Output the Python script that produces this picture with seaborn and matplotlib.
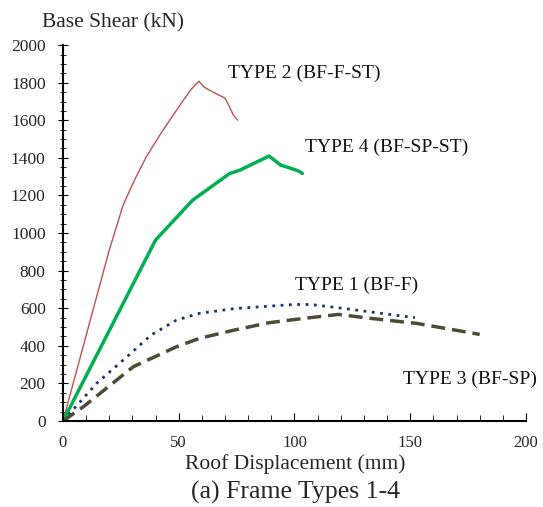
import numpy as np
import pandas as pd
import seaborn as sns
import matplotlib.pyplot as plt

# pushover curves, displacement (mm) vs base shear (kN)
t1_disp = [0, 14.5, 26, 38, 49, 59, 74, 90, 100, 107, 122, 138, 152]
t1_shear = [0, 200, 324, 457, 537, 573, 598, 612, 620, 620, 598, 572, 550]

t2_disp = [0, 20, 26, 31, 36, 42, 47.6, 55, 58.7, 61, 64.8, 70, 72, 73.5, 75.4]
t2_shear = [0, 910, 1150, 1285, 1406, 1525, 1628, 1760, 1808, 1776, 1750, 1718, 1670, 1630, 1601]

t3_disp = [0, 8.8, 30.4, 49, 59, 74, 89, 104, 119, 133, 153, 180]
t3_shear = [0, 76, 289, 395, 440, 484, 523, 546, 567, 546, 519, 461]

t4_disp = [0, 40, 56, 72, 76.5, 89, 94, 101.7, 103.4]
t4_shear = [0, 963, 1175, 1317, 1335, 1410, 1362, 1331, 1317]

labels = ["TYPE 1 (BF-F)", "TYPE 2 (BF-F-ST)", "TYPE 3 (BF-SP)", "TYPE 4 (BF-SP-ST)"]
label_x = [100.2, 71.3, 147, 104.5]
label_y = [723, 1851, 222, 1454]

sns.set_style("ticks")
plt.rcParams['font.family'] = ['Liberation Serif', 'DejaVu Serif']

fig = plt.figure(figsize=(5.43, 5.07), dpi=100)
ax = fig.add_axes([0.116, 0.1696, 0.8527, 0.7414])

sns.lineplot(x=t2_disp, y=t2_shear, ax=ax, sort=False, color="#c0504d", linewidth=1.0)
sns.lineplot(x=t4_disp, y=t4_shear, ax=ax, sort=False, color="#00b050", linewidth=2.5)
sns.lineplot(x=t1_disp, y=t1_shear, ax=ax, sort=False, color="#1f3070", linewidth=2.0,
             linestyle=(0, (1, 2)))
sns.lineplot(x=t3_disp, y=t3_shear, ax=ax, sort=False, color="#4d4a36", linewidth=2.5,
             linestyle=(0, (4, 2)))

for lab, lx, ly in zip(labels, label_x, label_y):
    ax.text(lx, ly, lab, fontsize=14, ha="left", va="center", color="#111111")

ax.set_xlim(0, 200)
ax.set_ylim(0, 2000)
ax.set_xticks([0, 50, 100, 150, 200])
ax.set_yticks(range(0, 2001, 200))
ax.set_xticks(range(0, 201, 10), minor=True)
ax.set_yticks(range(0, 2001, 50), minor=True)
ax.tick_params(axis="x", which="both", direction="in", labelsize=12, pad=10, color="black")
ax.tick_params(axis="x", which="major", length=6)
ax.tick_params(axis="x", which="minor", length=4)
ax.tick_params(axis="y", which="both", direction="inout", labelsize=12.5, pad=9, color="black")
ax.tick_params(axis="y", which="major", length=7)
ax.tick_params(axis="y", which="minor", length=5)
sns.despine(ax=ax)
for s in ["left", "bottom"]:
    ax.spines[s].set_color("black")
    ax.spines[s].set_linewidth(1.5)

ax.set_xlabel("")
ax.set_ylabel("")
fig.text(0.077, 0.955, "Base Shear (kN)", fontsize=15.5, ha="left", va="center")
fig.text(0.544, 0.084, "Roof Displacement (mm)", fontsize=15.5, ha="center", va="center")
fig.text(0.544, 0.029, "(a) Frame Types 1-4", fontsize=18.5, ha="center", va="center")

fig.savefig("out.png", dpi=100, facecolor="white")
